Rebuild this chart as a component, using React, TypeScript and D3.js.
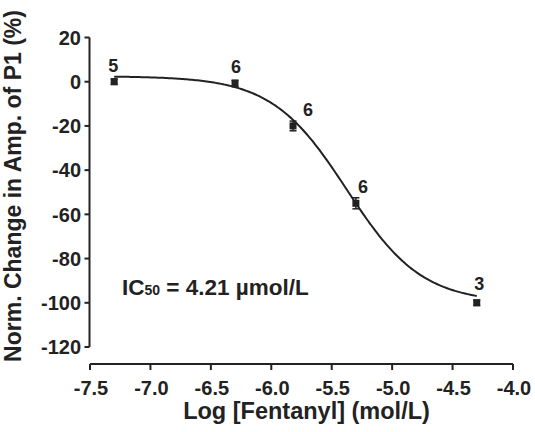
import React from "react";
import * as d3 from "d3";

const xTicks = [-7.5, -7.0, -6.5, -6.0, -5.5, -5.0, -4.5, -4.0];
const yTicks = [20, 0, -20, -40, -60, -80, -100, -120];
const logConc = [-7.3, -6.3, -5.82, -5.3, -4.3];
const normChange = [0, -0.8, -20, -55, -100];
const sem = [1.2, 1.5, 2.2, 2.5, 1.2];
const nLabels = ["5", "6", "6", "6", "3"];
// fitted sigmoid parameters
const fitTop = 2.5;
const fitBottom = -100;
const fitLogIC50 = -5.376;
const fitHill = 1.4;

const W = 535;
const H = 432;
const FONT = "'Liberation Sans', Arial, sans-serif";
const INK = "#222";

export default function App() {
  const x = d3.scaleLinear().domain([-7.5, -4.0]).range([90, 513]);
  const y = d3.scaleLinear().domain([20, -120]).range([37.5, 347]);
  const xAxisY = 364;
  const yAxisX = 89.5;

  const fit = (v: number) =>
    fitBottom + (fitTop - fitBottom) / (1 + Math.pow(10, (v - fitLogIC50) * fitHill));
  const curveX = d3.range(0, 201).map((i) => logConc[0] + (i / 200) * (logConc[4] - logConc[0]));
  const line = d3
    .line<number>()
    .x((d) => x(d))
    .y((d) => y(fit(d)))
    .curve(d3.curveLinear);

  // label offsets (dx, dy) relative to the point
  const labelOff: [number, number][] = [
    [-1, -10],
    [1, -10],
    [15, -10],
    [7, -10],
    [2.5, -13],
  ];

  return (
    <svg
      width={W}
      height={H}
      style={{ position: "absolute", left: 0, top: 0, background: "#fff" }}
      fontFamily={FONT}
    >
      <rect width={W} height={H} fill="#fff" />
      {/* Y axis */}
      <line x1={yAxisX} x2={yAxisX} y1={y(20)} y2={y(-120)} stroke={INK} strokeWidth={2} />
      {yTicks.map((t) => (
        <g key={t}>
          <line x1={yAxisX - 5} x2={yAxisX} y1={y(t)} y2={y(t)} stroke={INK} strokeWidth={2} />
          <text
            x={81}
            y={y(t)}
            dy="0.36em"
            textAnchor="end"
            fontSize={20}
            fontWeight="bold"
            fill={INK}
          >
            {t}
          </text>
        </g>
      ))}
      {/* X axis */}
      <line x1={x(-7.5)} x2={x(-4.0)} y1={xAxisY} y2={xAxisY} stroke={INK} strokeWidth={2} />
      {xTicks.map((t) => (
        <g key={t}>
          <line x1={x(t)} x2={x(t)} y1={xAxisY} y2={xAxisY + 6} stroke={INK} strokeWidth={2} />
          <text
            x={x(t) + 1}
            y={395}
            textAnchor="middle"
            fontSize={20}
            fontWeight="bold"
            fill={INK}
          >
            {t.toFixed(1)}
          </text>
        </g>
      ))}
      {/* axis titles */}
      <text
        x={306.5}
        y={419}
        textAnchor="middle"
        fontSize={23.5}
        fontWeight="bold"
        fill={INK}
      >
        Log [Fentanyl] (mol/L)
      </text>
      <text
        transform={`translate(20.5, 186) rotate(-90)`}
        textAnchor="middle"
        fontSize={23}
        fontWeight="bold"
        fill={INK}
      >
        Norm. Change in Amp. of P1 (%)
      </text>
      {/* fit curve */}
      <path d={line(curveX) || ""} fill="none" stroke={INK} strokeWidth={2} />
      {/* points */}
      {logConc.map((c, i) => {
        const px = x(c);
        const py = y(normChange[i]);
        return (
          <g key={i}>
            <line x1={px} x2={px} y1={y(normChange[i] + sem[i])} y2={y(normChange[i] - sem[i])} stroke={INK} strokeWidth={1.5} />
            <line x1={px - 3.5} x2={px + 3.5} y1={y(normChange[i] + sem[i])} y2={y(normChange[i] + sem[i])} stroke={INK} strokeWidth={1.5} />
            <line x1={px - 3.5} x2={px + 3.5} y1={y(normChange[i] - sem[i])} y2={y(normChange[i] - sem[i])} stroke={INK} strokeWidth={1.5} />
            <rect x={px - 3.5} y={py - 3.5} width={7} height={7} fill={INK} />
            <text
              x={px + labelOff[i][0]}
              y={py + labelOff[i][1]}
              textAnchor="middle"
              fontSize={18}
              fontWeight="bold"
              fill={INK}
            >
              {nLabels[i]}
            </text>
          </g>
        );
      })}
      {/* IC50 annotation */}
      <text x={122} y={295} fontSize={22.5} fontWeight="bold" fill={INK}>
        IC
        <tspan fontSize={14}>50</tspan>
        <tspan> = 4.21 µmol/L</tspan>
      </text>
    </svg>
  );
}
